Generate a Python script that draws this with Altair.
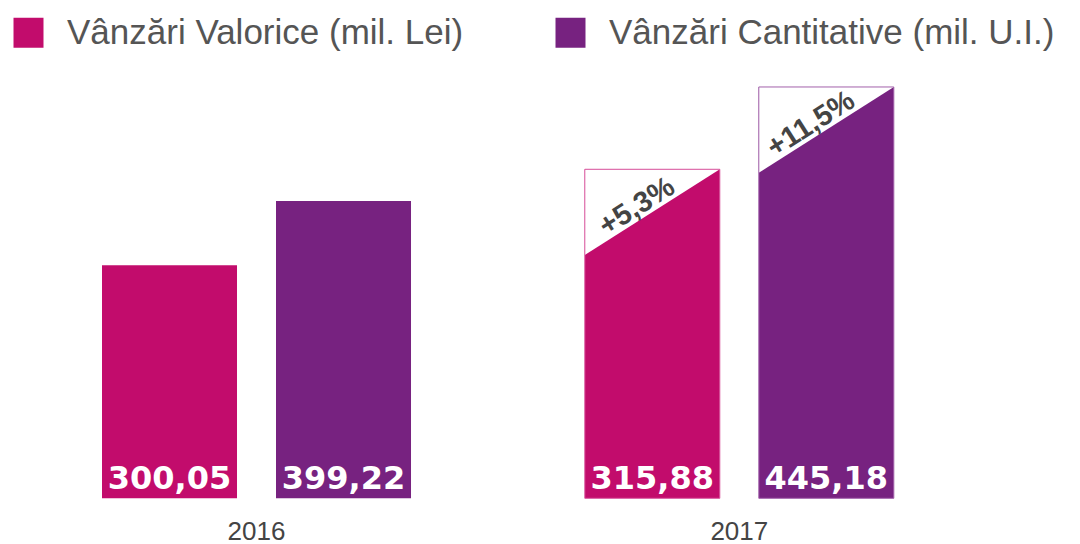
import altair as alt
import pandas as pd

# ---- data ----
years = ["2016", "2017"]
series = ["Vânzări Valorice (mil. Lei)", "Vânzări Cantitative (mil. U.I.)"]
valorice = [300.05, 315.88]
cantitative = [399.22, 445.18]
growth_valorice = [None, "+5,3%"]
growth_cantitative = [None, "+11,5%"]
# top edge of the growth frame drawn on the 2017 bars (value units)
frame_valorice = [None, 447.9]
frame_cantitative = [None, 574.5]

colors = ["#C20C6C", "#772280"]
outline_colors = ["#D9579E", "#A261AA"]

BASE = -58.3            # bars start here (the original is not drawn to scale)
Y_DOMAIN = [-116.3, 696]

rows = []
for i, yr in enumerate(years):
    for s, vals, gr, fr in [
        (series[0], valorice, growth_valorice, frame_valorice),
        (series[1], cantitative, growth_cantitative, frame_cantitative),
    ]:
        v = vals[i]
        rows.append({
            "year": yr,
            "series": s,
            "value": v,
            "frame": fr[i],
            "top": fr[i] if fr[i] is not None else v,
            "growth": gr[i],
            "label": f"{v:.2f}".replace(".", ","),
        })
df = pd.DataFrame(rows)

x_enc = alt.X(
    "year:N",
    scale=alt.Scale(paddingInner=0, paddingOuter=0.1019, align=0.0722),
    axis=alt.Axis(title=None, domain=False, ticks=False, tickSize=0, grid=False,
                  labelPadding=3, labelBaseline="alphabetic", labelAngle=0,
                  labelFontSize=26, labelFont="Liberation Sans", labelColor="#444444"),
)
xo_enc = alt.XOffset("series:N", scale=alt.Scale(domain=series, paddingInner=0.2241, paddingOuter=0.4994))
y_scale = alt.Scale(domain=Y_DOMAIN, nice=False, zero=False)

base = alt.Chart(df)

bars = base.mark_bar().encode(
    x=x_enc,
    xOffset=xo_enc,
    y=alt.Y("top:Q", scale=y_scale, axis=None),
    y2=alt.datum(BASE),
    color=alt.Color(
        "series:N",
        scale=alt.Scale(domain=series, range=colors),
        legend=alt.Legend(
            title=None, orient="none", legendX=3, legendY=7, direction="horizontal",
            symbolType="square", symbolSize=900, symbolStrokeWidth=0, symbolOpacity=1,
            labelFontSize=35, labelFont="Liberation Sans", labelColor="#555555",
            labelOffset=21, columnPadding=89, padding=0, labelLimit=1000,
        ),
    ),
)

framed = base.transform_filter("isValid(datum.growth)")

triangles = framed.mark_point(
    shape="M-1,0L1,0L-1,1.271Z", filled=True, fill="white", opacity=1,
    size=18225, strokeWidth=0,
).encode(x=x_enc, xOffset=xo_enc, y=alt.Y("top:Q", scale=y_scale, axis=None))

outline = framed.mark_bar(fillOpacity=0, strokeWidth=1).encode(
    x=x_enc,
    xOffset=xo_enc,
    y=alt.Y("top:Q", scale=y_scale, axis=None),
    y2=alt.datum(BASE),
    stroke=alt.Stroke("series:N", scale=alt.Scale(domain=series, range=outline_colors), legend=None),
)

pct = framed.mark_text(
    angle=327.6, dx=-33, dy=23, align="center", baseline="middle",
    fontSize=29, font="Liberation Sans", fontWeight="bold", color="#444444",
).encode(x=x_enc, xOffset=xo_enc, y=alt.Y("top:Q", scale=y_scale, axis=None), text="growth:N")

labels = base.mark_text(
    dy=-9, align="center", baseline="alphabetic",
    fontSize=32, font="DejaVu Sans", fontWeight="bold", color="white",
).encode(x=x_enc, xOffset=xo_enc, y=alt.datum(BASE), text="label:N")

chart = alt.layer(bars, triangles, outline, pct, labels).properties(
    width=1064, height=528, padding=0, autosize=alt.AutoSizeParams(type="pad"),
).configure_view(stroke=None)

chart.save("out.html", embed_options={"renderer": "svg", "actions": False})
